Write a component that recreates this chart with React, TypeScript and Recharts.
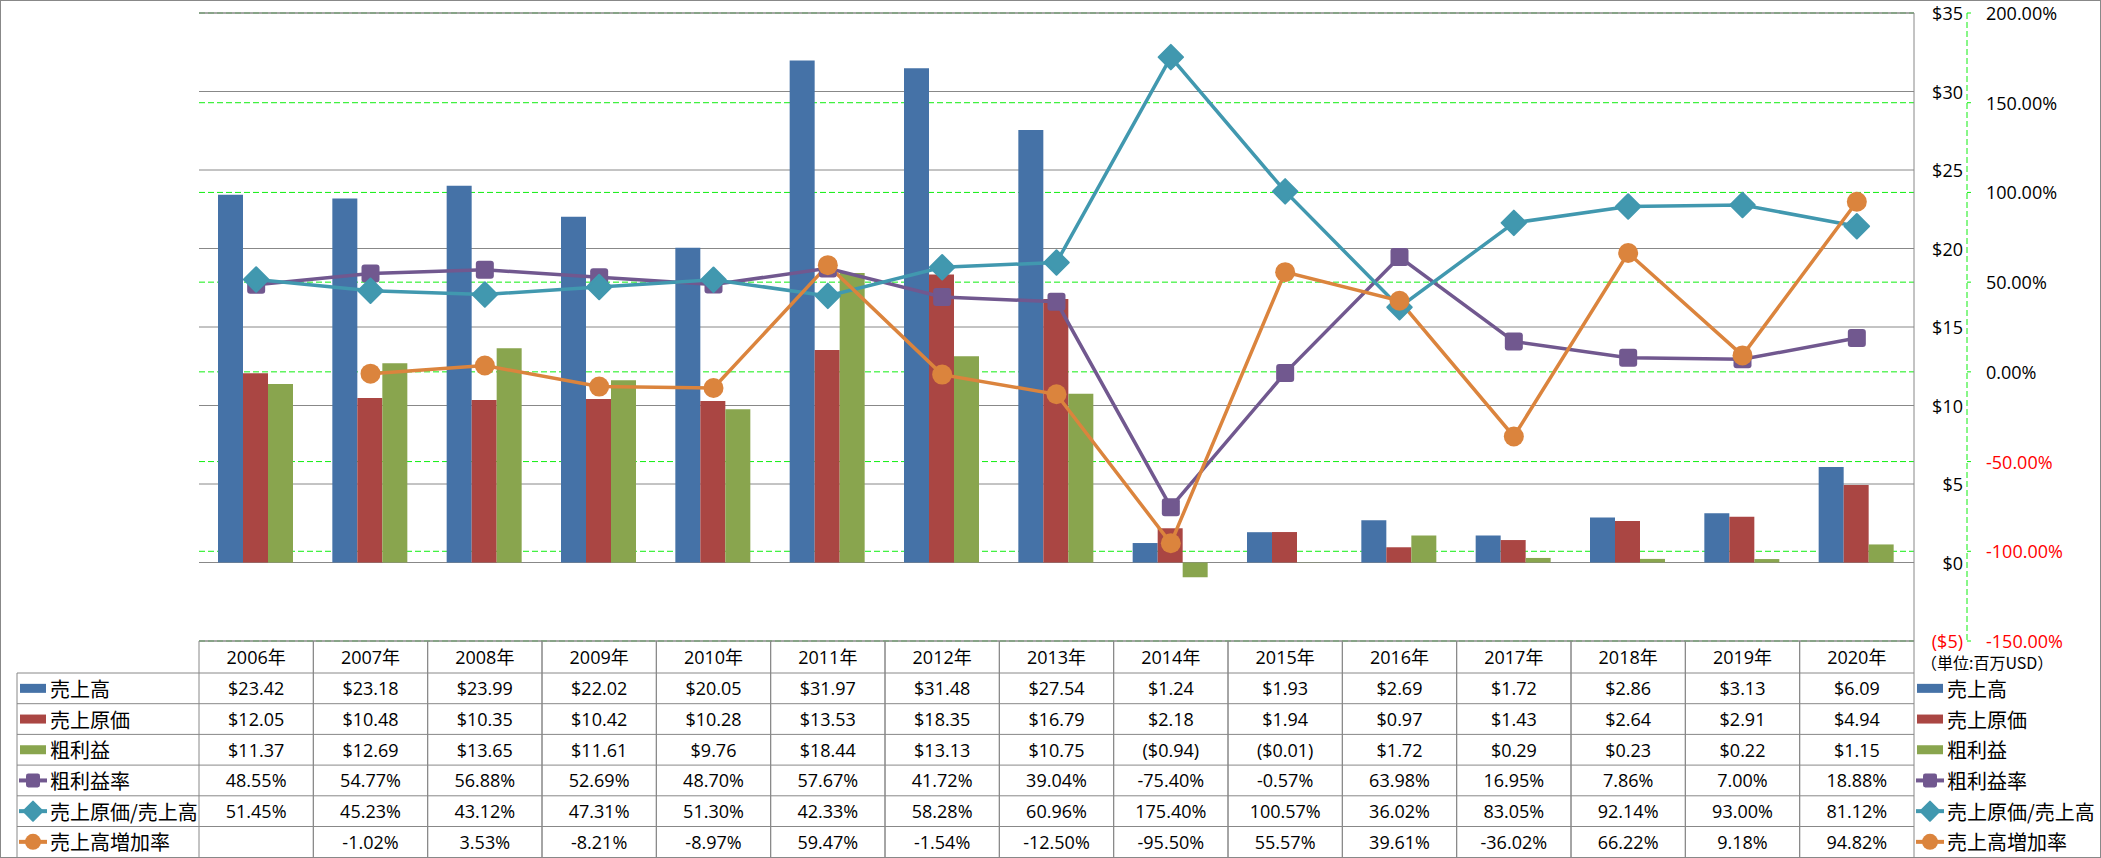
import { ComposedChart, Bar, Line, XAxis, YAxis, CartesianGrid, ReferenceLine } from "recharts"

const years = [
  "2006年", "2007年", "2008年", "2009年", "2010年", "2011年", "2012年", "2013年",
  "2014年", "2015年", "2016年", "2017年", "2018年", "2019年", "2020年",
]
const sales = [23.42, 23.18, 23.99, 22.02, 20.05, 31.97, 31.48, 27.54, 1.24, 1.93, 2.69, 1.72, 2.86, 3.13, 6.09]
const costOfSales = [12.05, 10.48, 10.35, 10.42, 10.28, 13.53, 18.35, 16.79, 2.18, 1.94, 0.97, 1.43, 2.64, 2.91, 4.94]
const grossProfit = [11.37, 12.69, 13.65, 11.61, 9.76, 18.44, 13.13, 10.75, -0.94, -0.01, 1.72, 0.29, 0.23, 0.22, 1.15]
const grossMargin = [48.55, 54.77, 56.88, 52.69, 48.7, 57.67, 41.72, 39.04, -75.4, -0.57, 63.98, 16.95, 7.86, 7.0, 18.88]
const costRatio = [51.45, 45.23, 43.12, 47.31, 51.3, 42.33, 58.28, 60.96, 175.4, 100.57, 36.02, 83.05, 92.14, 93.0, 81.12]
const salesGrowth = [null, -1.02, 3.53, -8.21, -8.97, 59.47, -1.54, -12.5, -95.5, 55.57, 39.61, -36.02, 66.22, 9.18, 94.82]

const amountTicks = [-5, 0, 5, 10, 15, 20, 25, 30, 35]
const rateTicks = [-150, -100, -50, 0, 50, 100, 150, 200]

const BLUE = "#4572A7"
const RED = "#AA4643"
const GREEN = "#89A54E"
const PURPLE = "#71588F"
const TEAL = "#4198AF"
const ORANGE = "#DB843D"
const GRAY = "#888888"
const DASH_GREEN = "#11ee11"
const FONT = "'Open Sans', 'Noto Sans CJK JP', sans-serif"
const CJK = "'Noto Sans CJK JP', sans-serif"

// layout
const W = 2101
const H = 858
const PLOT_LEFT = 199
const PLOT_RIGHT = 1914
const PLOT_TOP = 13
const PLOT_BOTTOM = 641
const BAND = (PLOT_RIGHT - PLOT_LEFT) / years.length
const HEADER_H = 32
const ROW_H = 30.7
const TABLE_BOTTOM = PLOT_BOTTOM + HEADER_H + ROW_H * 6

const money = (v: number | null) =>
  v == null ? "" : v < 0 ? `($${(-v).toFixed(2)})` : `$${v.toFixed(2)}`
const pct = (v: number | null) => (v == null ? "" : `${v.toFixed(2)}%`)

type Kind = "bar" | "square" | "diamond" | "circle"
const rows: { name: string; values: (number | null)[]; kind: Kind; color: string; fmt: (v: number | null) => string }[] = [
  { name: "売上高", values: sales, kind: "bar", color: BLUE, fmt: money },
  { name: "売上原価", values: costOfSales, kind: "bar", color: RED, fmt: money },
  { name: "粗利益", values: grossProfit, kind: "bar", color: GREEN, fmt: money },
  { name: "粗利益率", values: grossMargin, kind: "square", color: PURPLE, fmt: pct },
  { name: "売上原価/売上高", values: costRatio, kind: "diamond", color: TEAL, fmt: pct },
  { name: "売上高増加率", values: salesGrowth, kind: "circle", color: ORANGE, fmt: pct },
]

const data = years.map((year, i) => ({
  year,
  sales: sales[i],
  costOfSales: costOfSales[i],
  grossProfit: grossProfit[i],
  grossMargin: grossMargin[i],
  costRatio: costRatio[i],
  salesGrowth: salesGrowth[i],
}))

const rowTop = (r: number) => PLOT_BOTTOM + HEADER_H + r * ROW_H

function marker(kind: Kind, color: string, cx: number, cy: number, s: number) {
  if (kind === "square")
    return <rect x={cx - s / 2} y={cy - s / 2} width={s} height={s} rx={s / 6} fill={color} />
  if (kind === "diamond") {
    const d = s * 0.68
    return (
      <path d={`M${cx},${cy - d}L${cx + d},${cy}L${cx},${cy + d}L${cx - d},${cy}Z`} fill={color}
        stroke={color} strokeWidth={2} strokeLinejoin="round" />
    )
  }
  return <circle cx={cx} cy={cy} r={s / 2 + 1} fill={color} />
}

const makeDot = (kind: Kind, color: string) => (p: any) => {
  if (p.cx == null || p.cy == null || p.value == null) return <g key={p.index} />
  return <g key={p.index}>{marker(kind, color, p.cx, p.cy, 18)}</g>
}

function legendIcon(kind: Kind, color: string, cx: number, cy: number) {
  if (kind === "bar") return <rect x={cx - 13} y={cy - 4.5} width={26} height={9} fill={color} />
  return (
    <g>
      <line x1={cx - 14} y1={cy} x2={cx + 14} y2={cy} stroke={color} strokeWidth={4} />
      {marker(kind, color, cx, cy, 14)}
    </g>
  )
}

function AmountTick(props: any) {
  const { x, y, payload } = props
  const v = payload.value
  return (
    <text x={x} y={y} textAnchor="end" dominantBaseline="central" fontSize={18} fontFamily={FONT}
      fill={v < 0 ? "#ff0000" : "#000"}>
      {v < 0 ? `($${-v})` : `$${v}`}
    </text>
  )
}

function RateTick(props: any) {
  const { x, y, payload } = props
  const v = payload.value
  return (
    <text x={x} y={y} textAnchor="start" dominantBaseline="central" fontSize={18} fontFamily={FONT}
      fill={v < 0 ? "#ff0000" : "#000"}>
      {`${v.toFixed(2)}%`}
    </text>
  )
}

// each category tick draws one column of the data table
function TableColumn(props: any) {
  const { x, payload } = props
  const i = years.indexOf(payload.value)
  const left = x - BAND / 2
  const right = x + BAND / 2
  return (
    <g>
      <line x1={left} y1={PLOT_BOTTOM} x2={left} y2={TABLE_BOTTOM} stroke={GRAY} />
      <line x1={right} y1={PLOT_BOTTOM} x2={right} y2={TABLE_BOTTOM} stroke={GRAY} />
      <text x={x} y={PLOT_BOTTOM + HEADER_H / 2} textAnchor="middle" dominantBaseline="central"
        fontSize={18} fontFamily={FONT} fill="#000">
        {payload.value}
      </text>
      {rows.map((row, r) => (
        <g key={row.name}>
          <line x1={left} y1={rowTop(r)} x2={right} y2={rowTop(r)} stroke={GRAY} />
          <text x={x} y={rowTop(r) + ROW_H / 2} textAnchor="middle" dominantBaseline="central"
            fontSize={18} fontFamily={FONT} fill="#000">
            {row.fmt(row.values[i])}
          </text>
        </g>
      ))}
    </g>
  )
}

export default function App() {
  return (
    <div style={{ position: "absolute", left: 0, top: 0, width: W, height: H, background: "#fff" }}>
      <ComposedChart
        width={W}
        height={H}
        data={data}
        margin={{ top: PLOT_TOP, right: W - PLOT_RIGHT - 53 - 130, left: PLOT_LEFT, bottom: 0 }}
        barCategoryGap={19}
        barGap={0}
      >
        <CartesianGrid yAxisId="rate" vertical={false} stroke={DASH_GREEN} strokeDasharray="6 3" />
        <CartesianGrid yAxisId="amount" vertical={false} stroke={GRAY} />
        <XAxis
          dataKey="year"
          height={H - PLOT_BOTTOM}
          interval={0}
          axisLine={{ stroke: GRAY }}
          tickLine={false}
          tick={<TableColumn />}
        />
        <YAxis
          yAxisId="amount"
          orientation="right"
          width={53}
          domain={[-5, 35]}
          ticks={amountTicks}
          axisLine={{ stroke: GRAY }}
          tickLine={false}
          tickSize={0}
          tickMargin={49}
          tick={<AmountTick />}
        />
        <YAxis
          yAxisId="rate"
          orientation="right"
          width={130}
          domain={[-150, 200]}
          ticks={rateTicks}
          axisLine={{ stroke: DASH_GREEN, strokeDasharray: "6 3" }}
          tickLine={{ stroke: DASH_GREEN }}
          tickSize={4}
          tickMargin={15}
          tick={<RateTick />}
        />
        <ReferenceLine yAxisId="amount" y={35} stroke={GRAY} />
        <Bar yAxisId="amount" dataKey="sales" fill={BLUE} isAnimationActive={false} />
        <Bar yAxisId="amount" dataKey="costOfSales" fill={RED} isAnimationActive={false} />
        <Bar yAxisId="amount" dataKey="grossProfit" fill={GREEN} isAnimationActive={false} />
        <Line yAxisId="rate" dataKey="grossMargin" stroke={PURPLE} strokeWidth={3.5}
          dot={makeDot("square", PURPLE)} activeDot={false} isAnimationActive={false} />
        <Line yAxisId="rate" dataKey="costRatio" stroke={TEAL} strokeWidth={3.5}
          dot={makeDot("diamond", TEAL)} activeDot={false} isAnimationActive={false} />
        <Line yAxisId="rate" dataKey="salesGrowth" stroke={ORANGE} strokeWidth={3.5}
          dot={makeDot("circle", ORANGE)} activeDot={false} isAnimationActive={false} />
      </ComposedChart>

      {/* row labels, right-hand legend and outer frame */}
      <svg width={W} height={H} style={{ position: "absolute", left: 0, top: 0, pointerEvents: "none" }}>
        <line x1={17} y1={rowTop(0)} x2={17} y2={TABLE_BOTTOM} stroke={GRAY} />
        {rows.map((row, r) => (
          <g key={row.name}>
            <line x1={17} y1={rowTop(r)} x2={PLOT_LEFT} y2={rowTop(r)} stroke={GRAY} />
            {legendIcon(row.kind, row.color, 33, rowTop(r) + ROW_H / 2)}
            <text x={50} y={rowTop(r) + ROW_H / 2} dominantBaseline="central" fontSize={20} fontFamily={CJK}>
              {row.name}
            </text>
            {legendIcon(row.kind, row.color, 1930, rowTop(r) + ROW_H / 2)}
            <text x={1947} y={rowTop(r) + ROW_H / 2} dominantBaseline="central" fontSize={20} fontFamily={CJK}>
              {row.name}
            </text>
          </g>
        ))}
        <text x={1921} y={662} dominantBaseline="central" fontSize={16} fontFamily={CJK}>
          （単位:百万USD）
        </text>
        <rect x={0.5} y={0.5} width={W - 1} height={H - 1} fill="none" stroke={GRAY} />
      </svg>
    </div>
  )
}
